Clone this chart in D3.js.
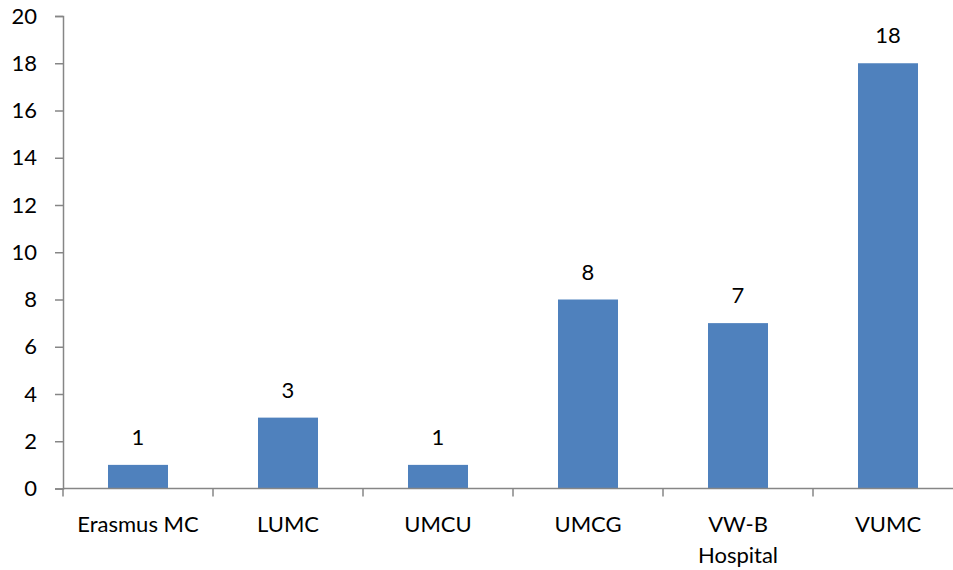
<!DOCTYPE html>
<html>
<head>
<meta charset="utf-8">
<script src="https://cdn.jsdelivr.net/npm/d3@7"></script>
<style>
  html, body { margin: 0; padding: 0; background: #fff; }
  svg { display: block; font-family: Lato, "Open Sans", sans-serif; }
</style>
</head>
<body>
<svg id="chart" width="953" height="570"></svg>
<script>
// ── Data ──────────────────────────────────────────────────────────────────────
const categories = ['Erasmus MC', 'LUMC', 'UMCU', 'UMCG', 'VW-B Hospital', 'VUMC']
const labelLines = [['Erasmus MC'], ['LUMC'], ['UMCU'], ['UMCG'], ['VW-B', 'Hospital'], ['VUMC']]
const values     = [1, 3, 1, 8, 7, 18]
const yTicks     = [0, 2, 4, 6, 8, 10, 12, 14, 16, 18, 20]

// ── Layout ────────────────────────────────────────────────────────────────────
const AXIS = '#868686'
const BAR  = '#4F81BD'
const FS   = 22
const M = { left: 63, right: 963, top: 16, bottom: 488.5 }

const svg = d3.select('#chart')

const x = d3.scaleBand().domain(categories).range([M.left, M.right]).paddingInner(0).paddingOuter(0)
const y = d3.scaleLinear().domain([0, 20]).range([M.bottom, M.top])
const barW = x.bandwidth() * 0.4

// ── Y axis ────────────────────────────────────────────────────────────────────
const yAxis = svg.append('g')
  .attr('transform', `translate(${M.left},0)`)
  .call(d3.axisLeft(y).tickValues(yTicks).tickSize(8).tickPadding(18))
yAxis.select('.domain').attr('stroke', AXIS).attr('stroke-width', 1.5)
yAxis.selectAll('.tick line').attr('stroke', AXIS).attr('stroke-width', 1.5)
yAxis.selectAll('.tick text').attr('fill', '#000').attr('font-size', FS)
  .attr('font-family', 'Lato, sans-serif')

// ── Bars ──────────────────────────────────────────────────────────────────────
svg.append('g').selectAll('rect')
  .data(values)
  .join('rect')
  .attr('x', (d, i) => x(categories[i]) + (x.bandwidth() - barW) / 2)
  .attr('y', d => y(d))
  .attr('width', barW)
  .attr('height', d => y(0) - y(d))
  .attr('fill', BAR)

svg.append('g').selectAll('text')
  .data(values)
  .join('text')
  .attr('x', (d, i) => x(categories[i]) + x.bandwidth() / 2)
  .attr('y', d => y(d) - 20)
  .attr('text-anchor', 'middle')
  .attr('font-size', FS)
  .text(d => d)

// ── X axis ────────────────────────────────────────────────────────────────────
const xAxis = svg.append('g')
  .attr('transform', `translate(0,${M.bottom})`)
xAxis.append('line')
  .attr('x1', M.left).attr('x2', M.right)
  .attr('stroke', AXIS).attr('stroke-width', 1.5)
xAxis.selectAll('line.tick')
  .data(categories.concat([null]))
  .join('line')
  .attr('class', 'tick')
  .attr('x1', (d, i) => i < categories.length ? x(d) : M.right)
  .attr('x2', (d, i) => i < categories.length ? x(d) : M.right)
  .attr('y1', 0).attr('y2', 8)
  .attr('stroke', AXIS).attr('stroke-width', 1.5)

const catLabels = xAxis.selectAll('text.cat')
  .data(labelLines)
  .join('text')
  .attr('class', 'cat')
  .attr('text-anchor', 'middle')
  .attr('font-size', FS)
  .attr('transform', (d, i) => `translate(${x(categories[i]) + x.bandwidth() / 2},43)`)
catLabels.selectAll('tspan')
  .data(d => d)
  .join('tspan')
  .attr('x', 0)
  .attr('dy', (d, i) => i === 0 ? 0 : 31)
  .text(d => d)
</script>
</body>
</html>
